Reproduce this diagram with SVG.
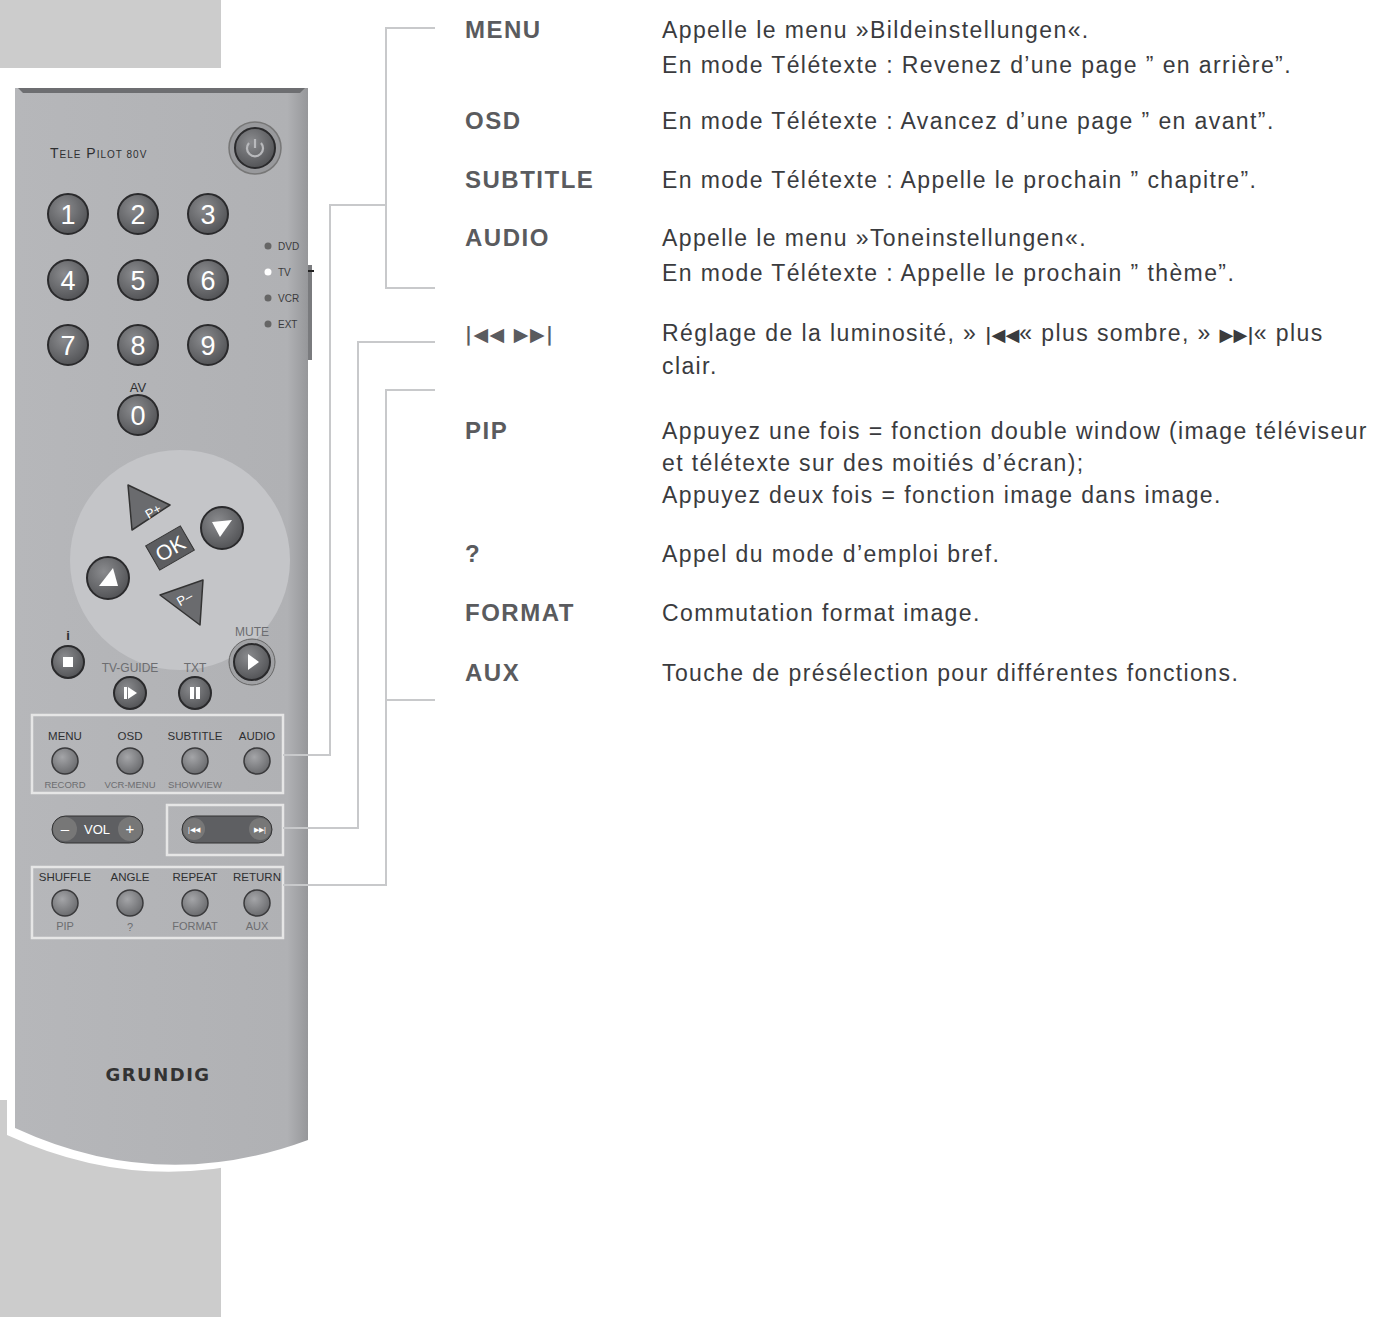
<svg xmlns="http://www.w3.org/2000/svg" width="1390" height="1317" viewBox="0 0 1390 1317">
<defs>
<radialGradient id="bt" cx="0.4" cy="0.35" r="0.7"><stop offset="0" stop-color="#8a8b8e"/><stop offset="1" stop-color="#505154"/></radialGradient>
<radialGradient id="sb" cx="0.4" cy="0.35" r="0.7"><stop offset="0" stop-color="#a4a5a8"/><stop offset="1" stop-color="#67686b"/></radialGradient>
<linearGradient id="body" x1="0" x2="1"><stop offset="0" stop-color="#b6b7ba"/><stop offset="0.93" stop-color="#b0b1b4"/><stop offset="1" stop-color="#96979a"/></linearGradient>
</defs>
<style>
.lbl{font-family:"Liberation Sans",Arial,sans-serif;font-weight:bold;font-size:24px;letter-spacing:1.5px;fill:#5a5b5e}
.dsc{font-family:"Liberation Sans",Arial,sans-serif;font-size:23px;letter-spacing:1.4px;fill:#3a3b3e}
.con{fill:none;stroke:#c8c9cb;stroke-width:2}
.box{fill:none;stroke:#e6e6e6;stroke-width:2.5}
.num{font-family:"Liberation Sans",Arial,sans-serif;fill:#fff;text-anchor:middle}
.btn{fill:url(#bt);stroke:#2a2a2c;stroke-width:2}
.sbtn{fill:url(#sb);stroke:#3a3a3c;stroke-width:1.5}
.rt{font-family:"Liberation Sans",Arial,sans-serif;font-size:11.5px;fill:#2e2f31;text-anchor:middle}
.rs{font-family:"Liberation Sans",Arial,sans-serif;font-size:11px;fill:#6c6d70;text-anchor:middle}
.led{font-family:"Liberation Sans",Arial,sans-serif;font-size:10px;fill:#3a3a3c}
</style>
<rect width="1390" height="1317" fill="#fff"/>
<rect x="0" y="0" width="221" height="68" fill="#cccccc"/>
<rect x="0" y="1100" width="221" height="217" fill="#cccccc"/>
<g id="remote">
<path d="M7 1100 V1135 Q160 1205 316 1142 V1100 Z" fill="#fff"/>
<path d="M15 88 H308 V1140 Q160 1195 15 1128 Z" fill="url(#body)"/>
<path d="M18 88 H305 L300 93 H23 Z" fill="#6d6e71"/>
<text x="50" y="158" font-family="Liberation Sans,sans-serif" font-size="14" fill="#2e2f31" letter-spacing="1">T<tspan font-size="10">ELE</tspan> P<tspan font-size="10">ILOT  80V</tspan></text>
<circle cx="255" cy="148" r="26" fill="#98999c" stroke="#777" stroke-width="1.5"/>
<circle cx="255" cy="148" r="20" class="btn"/>
<path d="M249 143 A8 8 0 1 0 261 143 M255 139 V148" stroke="#b8b9bc" stroke-width="2.2" fill="none"/>
<g id="numbers" font-size="27">
<circle cx="68" cy="214" r="20" class="btn"/><text x="68" y="224" class="num">1</text>
<circle cx="138" cy="214" r="20" class="btn"/><text x="138" y="224" class="num">2</text>
<circle cx="208" cy="214" r="20" class="btn"/><text x="208" y="224" class="num">3</text>
<circle cx="68" cy="280" r="20" class="btn"/><text x="68" y="290" class="num">4</text>
<circle cx="138" cy="280" r="20" class="btn"/><text x="138" y="290" class="num">5</text>
<circle cx="208" cy="280" r="20" class="btn"/><text x="208" y="290" class="num">6</text>
<circle cx="68" cy="345" r="20" class="btn"/><text x="68" y="355" class="num">7</text>
<circle cx="138" cy="345" r="20" class="btn"/><text x="138" y="355" class="num">8</text>
<circle cx="208" cy="345" r="20" class="btn"/><text x="208" y="355" class="num">9</text>
<text x="138" y="392" class="rt" style="font-size:13px">AV</text>
<circle cx="138" cy="415" r="20" class="btn"/><text x="138" y="425" class="num">0</text>
</g>
<circle cx="268" cy="246" r="3.5" fill="#666"/><text x="278" y="250" class="led">DVD</text>
<circle cx="268" cy="272" r="3.5" fill="#fff"/><text x="278" y="276" class="led">TV</text>
<circle cx="268" cy="298" r="3.5" fill="#666"/><text x="278" y="302" class="led">VCR</text>
<circle cx="268" cy="324" r="3.5" fill="#666"/><text x="278" y="328" class="led">EXT</text>
<rect x="308" y="265" width="4" height="95" fill="#7a7b7e"/><rect x="308" y="270" width="6" height="2" fill="#222"/>
<circle cx="180" cy="560" r="110" fill="#c4c5c8"/>
<path d="M128 485 L132 530 L170 505 Z" fill="#6a6b6e" stroke="#333" stroke-width="1.5" stroke-linejoin="round"/>
<text x="146" y="520" font-family="Liberation Sans,sans-serif" font-size="13" fill="#fff" transform="rotate(-30 146 515)">P+</text>
<circle cx="222" cy="528" r="21" class="btn"/><path d="M212 522 L232 520 L220 537 Z" fill="#fff"/>
<g transform="rotate(-30 170 548)"><rect x="150" y="534" width="40" height="28" fill="#5c5d60" stroke="#333"/><text x="170" y="556" class="num" font-size="21">OK</text></g>
<circle cx="108" cy="578" r="21" class="btn"/><path d="M99 586 L113 568 L118 586 Z" fill="#fff"/>
<path d="M160 595 L203 580 L200 625 Z" fill="#6a6b6e" stroke="#333" stroke-width="1.5" stroke-linejoin="round"/>
<text x="178" y="607" font-family="Liberation Sans,sans-serif" font-size="13" fill="#fff" transform="rotate(-30 178 603)">P–</text>
<text x="68" y="640" class="rt" font-weight="bold" style="font-size:13px">i</text>
<circle cx="68" cy="662" r="16" class="btn"/><rect x="63" y="657" width="10" height="10" fill="#fff"/>
<text x="252" y="636" class="rs" style="font-size:12px">MUTE</text>
<circle cx="252" cy="662" r="23" fill="#a0a1a4" stroke="#666"/><circle cx="252" cy="662" r="18" class="btn"/><path d="M248 654 L259 662 L248 670 Z" fill="#fff"/>
<text x="130" y="672" class="rs" style="font-size:12px">TV-GUIDE</text>
<circle cx="130" cy="693" r="16" class="btn"/><rect x="124" y="687" width="3" height="12" fill="#fff"/><path d="M128 687 L137 693 L128 699 Z" fill="#fff"/>
<text x="195" y="672" class="rs" style="font-size:12px">TXT</text>
<circle cx="195" cy="693" r="16" class="btn"/><rect x="190" y="687" width="4" height="12" fill="#fff"/><rect x="196" y="687" width="4" height="12" fill="#fff"/>
</g>
<g id="box-menu">
<rect x="32" y="715" width="251" height="78" class="box"/>
<text x="65" y="740" class="rt">MENU</text><text x="130" y="740" class="rt">OSD</text><text x="195" y="740" class="rt">SUBTITLE</text><text x="257" y="740" class="rt">AUDIO</text>
<circle cx="65" cy="761" r="13" class="sbtn"/><circle cx="130" cy="761" r="13" class="sbtn"/><circle cx="195" cy="761" r="13" class="sbtn"/><circle cx="257" cy="761" r="13" class="sbtn"/>
<text x="65" y="788" class="rs" style="font-size:9.5px">RECORD</text><text x="130" y="788" class="rs" style="font-size:9.5px">VCR-MENU</text><text x="195" y="788" class="rs" style="font-size:9.5px">SHOWVIEW</text>
</g>
<g id="vol">
<rect x="52" y="816" width="91" height="27" rx="13.5" fill="#5e5f62" stroke="#333"/>
<circle cx="65" cy="829" r="12" fill="#777"/><circle cx="130" cy="829" r="12" fill="#777"/>
<text x="65" y="834" class="num" font-size="15">–</text><text x="97" y="834" class="num" font-size="13">VOL</text><text x="130" y="834" class="num" font-size="15">+</text>
</g>
<g id="box-skip">
<rect x="167" y="805" width="116" height="50" class="box"/>
<rect x="182" y="816" width="90" height="27" rx="13.5" fill="#5e5f62" stroke="#333"/>
<circle cx="194" cy="829" r="11" fill="#777"/><circle cx="260" cy="829" r="11" fill="#777"/>
<text x="194" y="832" class="num" font-size="7" font-family="DejaVu Sans,sans-serif">|◀◀</text><text x="260" y="832" class="num" font-size="7" font-family="DejaVu Sans,sans-serif">▶▶|</text>
</g>
<g id="box-shuffle">
<rect x="32" y="867" width="251" height="71" class="box"/>
<text x="65" y="881" class="rt">SHUFFLE</text><text x="130" y="881" class="rt">ANGLE</text><text x="195" y="881" class="rt">REPEAT</text><text x="257" y="881" class="rt">RETURN</text>
<circle cx="65" cy="903" r="13" class="sbtn"/><circle cx="130" cy="903" r="13" class="sbtn"/><circle cx="195" cy="903" r="13" class="sbtn"/><circle cx="257" cy="903" r="13" class="sbtn"/>
<text x="65" y="930" class="rs">PIP</text><text x="130" y="931" class="rs">?</text><text x="195" y="930" class="rs">FORMAT</text><text x="257" y="930" class="rs">AUX</text>
</g>
<text x="158" y="1081" text-anchor="middle" font-family="DejaVu Sans,sans-serif" font-weight="bold" font-size="18" fill="#333" letter-spacing="1.5">GRUNDIG</text>
<g id="connectors">
<path class="con" d="M435 28 H386 V288 H435 M386 205 H330 V755 H283"/>
<path class="con" d="M435 342 H358 V828 H283"/>
<path class="con" d="M435 390 H386 V885 H283 M386 700 H435"/>
</g>
<g id="texts">
<text x="465" y="38" class="lbl">MENU</text>
<text x="662" y="38" class="dsc">Appelle le menu »Bildeinstellungen«.</text>
<text x="662" y="73" class="dsc">En mode Télétexte : Revenez d’une page ” en arrière”.</text>
<text x="465" y="129" class="lbl">OSD</text>
<text x="662" y="129" class="dsc">En mode Télétexte : Avancez d’une page ” en avant”.</text>
<text x="465" y="188" class="lbl">SUBTITLE</text>
<text x="662" y="188" class="dsc">En mode Télétexte : Appelle le prochain ” chapitre”.</text>
<text x="465" y="246" class="lbl">AUDIO</text>
<text x="662" y="246" class="dsc">Appelle le menu »Toneinstellungen«.</text>
<text x="662" y="281" class="dsc">En mode Télétexte : Appelle le prochain ” thème”.</text>
<text x="465" y="341" class="lbl" style="font-family:'DejaVu Sans',sans-serif;font-size:19px">|◀◀   ▶▶|</text>
<text x="662" y="341" class="dsc">Réglage de la luminosité, » <tspan style="font-family:'DejaVu Sans',sans-serif;font-weight:bold;font-size:18px;letter-spacing:0">|◀◀</tspan>« plus sombre, » <tspan style="font-family:'DejaVu Sans',sans-serif;font-weight:bold;font-size:18px;letter-spacing:0">▶▶|</tspan>« plus</text>
<text x="662" y="374" class="dsc">clair.</text>
<text x="465" y="439" class="lbl">PIP</text>
<text x="662" y="439" class="dsc">Appuyez une fois = fonction double window (image téléviseur</text>
<text x="662" y="471" class="dsc">et télétexte sur des moitiés d’écran);</text>
<text x="662" y="503" class="dsc">Appuyez deux fois = fonction image dans image.</text>
<text x="465" y="562" class="lbl">?</text>
<text x="662" y="562" class="dsc">Appel du mode d’emploi bref.</text>
<text x="465" y="621" class="lbl">FORMAT</text>
<text x="662" y="621" class="dsc">Commutation format image.</text>
<text x="465" y="681" class="lbl">AUX</text>
<text x="662" y="681" class="dsc">Touche de présélection pour différentes fonctions.</text>
</g>
</svg>
